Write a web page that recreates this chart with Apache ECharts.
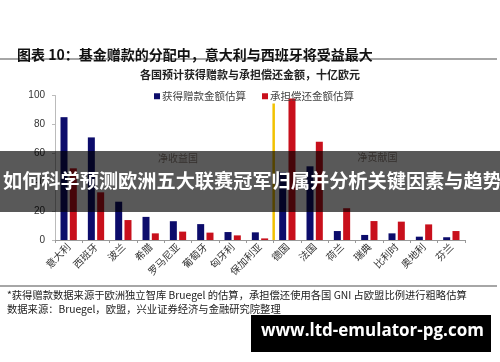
<!DOCTYPE html>
<html><head><meta charset="utf-8">
<script src="https://cdn.jsdelivr.net/npm/echarts@6/dist/echarts.min.js"></script>
<style>html,body{margin:0;padding:0;background:#fff}#c{width:500px;height:362px}</style>
</head><body><div id="c"></div>
<script>
const categories = ['意大利','西班牙','波兰','希腊','罗马尼亚','葡萄牙','匈牙利','保加利亚','德国','法国','荷兰','瑞典','比利时','奥地利','芬兰'];
const grants = [85, 71, 26.5, 16, 13, 11, 5.5, 5.3, 47, 51, 6.2, 3.5, 4.6, 2.3, 1.9];
const repay  = [49.6, 33, 13.8, 4.6, 5.8, 5.1, 3.2, 1.1, 98, 68, 22, 13.1, 12.7, 10.8, 6.2];
const yTicks = [0, 20, 40, 60, 80, 100];
const dividerX = 8;      // boundary between 净收益国 and 净贡献国
const dividerTop = 94.5;
const groupNotes = [{name:'净收益国', x:4.5, y:56.5}, {name:'净贡献国', x:11.8, y:57}];

const CJK = '"Noto Sans CJK SC", sans-serif';
const chart = echarts.init(document.getElementById('c'), null, {renderer:'canvas'});
chart.setOption({
  animation:false,
  backgroundColor:'#fff',
  title:[
    {text:'图表 10：基金赠款的分配中，意大利与西班牙将受益最大', left:12, top:43,
     textStyle:{fontFamily:CJK, fontSize:14, fontWeight:'bold', color:'#111'}},
    {text:'各国预计获得赠款与承担偿还金额，十亿欧元', left:'center', top:64,
     textStyle:{fontFamily:CJK, fontSize:11, fontWeight:'bold', color:'#222'}}
  ],
  legend:{
    top:86, left:149, itemWidth:6, itemHeight:6, itemGap:16, icon:'rect',
    textStyle:{fontFamily:CJK, fontSize:10.5, color:'#444', padding:[0,0,0,-3]},
    data:['获得赠款金额估算','承担偿还金额估算']
  },
  grid:{left:55, right:35, top:95.5, bottom:122, containLabel:false},
  xAxis:[
    {type:'category', data:categories,
     axisLine:{lineStyle:{color:'#999'}},
     axisTick:{show:true, length:3, lineStyle:{color:'#999'}},
     axisLabel:{rotate:45, interval:0, margin:5, fontFamily:CJK, fontSize:10, color:'#333'}},
    {type:'value', min:0, max:categories.length, show:false}
  ],
  yAxis:{
    type:'value', min:0, max:100, interval:20,
    axisLine:{show:true, lineStyle:{color:'#bbb'}},
    axisTick:{show:true, length:3, lineStyle:{color:'#bbb'}},
    splitLine:{show:false},
    axisLabel:{fontFamily:'"Liberation Sans", Arial', fontSize:10, color:'#333', margin:10,
      formatter:v=>yTicks.includes(v)?String(v):''}
  },
  series:[
    {name:'获得赠款金额估算', type:'bar', data:grants, barWidth:7, barGap:'33%',
     itemStyle:{color:'#0c0c6b'}},
    {name:'承担偿还金额估算', type:'bar', data:repay, barWidth:7,
     itemStyle:{color:'#c8101c'}},
    {name:'divider', type:'line', xAxisIndex:1, data:[[dividerX,0],[dividerX,dividerTop]],
     symbol:'none', lineStyle:{color:'#f2c200', width:2.5}, z:5},
    {name:'notes', type:'scatter', xAxisIndex:1, symbolSize:0,
     data:groupNotes.map(n=>({value:[n.x,n.y], name:n.name})),
     label:{show:true, position:'inside', formatter:p=>p.name, fontFamily:CJK, fontSize:10, color:'#7a6a60'}}
  ],
  graphic:[
    {type:'line', shape:{x1:0,y1:59,x2:497,y2:59}, style:{stroke:'#888', lineWidth:1.5}},
    {type:'line', shape:{x1:0,y1:286,x2:497,y2:286}, style:{stroke:'#888', lineWidth:1.5}},
    {type:'text', left:7, top:290, style:{text:'*获得赠款数据来源于欧洲独立智库 Bruegel 的估算，承担偿还使用各国 GNI 占欧盟比例进行粗略估算',
      font:'10.3px "Noto Sans CJK SC"', fill:'#222'}},
    {type:'text', left:7, top:304, style:{text:'数据来源：Bruegel，欧盟，兴业证券经济与金融研究院整理',
      font:'10.3px "Noto Sans CJK SC"', fill:'#222'}},
    {type:'rect', shape:{x:0,y:151,width:500,height:61}, style:{fill:'rgba(0,0,0,0.65)'}, z:100},
    {type:'text', left:3, top:171, style:{text:'如何科学预测欧洲五大联赛冠军归属并分析关键因素与趋势',
      font:'bold 19.2px "Noto Sans CJK SC"', fill:'#fff'}, z:101},
    {type:'rect', shape:{x:251,y:315,width:240,height:37}, style:{fill:'#000'}, z:100},
    {type:'text', left:261, top:323, style:{text:'www.ltd-emulator-pg.com',
      font:'bold 17px "Open Sans"', fill:'#fff'}, z:101}
  ]
});
</script></body></html>
